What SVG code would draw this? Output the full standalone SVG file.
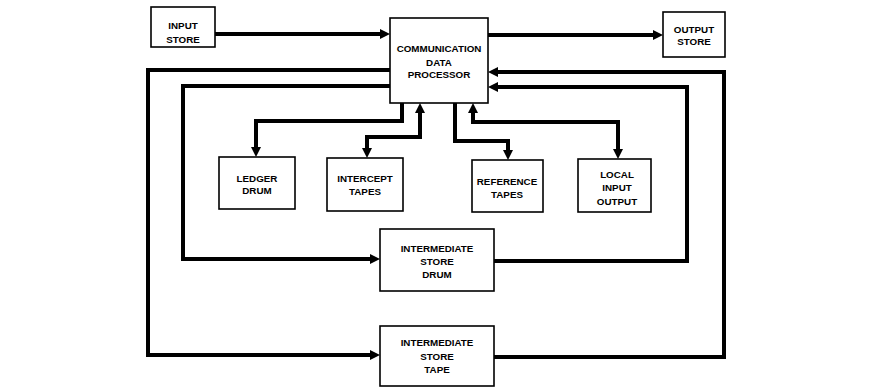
<svg xmlns="http://www.w3.org/2000/svg" width="891" height="388" viewBox="0 0 891 388">
<style>
.box{fill:#fff;stroke:#000;stroke-width:1.6}
.t{font-family:"Liberation Sans",Arial,sans-serif;font-weight:bold;font-size:9.8px;text-anchor:middle;fill:#000}
.c{fill:none;stroke:#000;stroke-width:4;stroke-linejoin:miter}
</style>
<defs>
<marker id="ah" viewBox="0 0 10 10" refX="3" refY="5" markerWidth="10" markerHeight="10" markerUnits="userSpaceOnUse" orient="auto-start-reverse">
<path d="M0,0 L10,5 L0,10 z" fill="#000"/>
</marker>
</defs>
<rect width="891" height="388" fill="#fff"/>
<g id="connectors">
<path class="c" d="M215,34 H383" marker-end="url(#ah)"/>
<path class="c" d="M488,35 H656" marker-end="url(#ah)"/>
<path class="c" d="M390,70 H148 V355 H373" marker-end="url(#ah)"/>
<path class="c" d="M390,86 H183 V259 H373" marker-end="url(#ah)"/>
<path class="c" d="M494,261 H687 V87 H495" marker-end="url(#ah)"/>
<path class="c" d="M494,357 H724 V72 H495" marker-end="url(#ah)"/>
<path class="c" d="M402,103 V121 H256 V150" marker-end="url(#ah)"/>
<path class="c" d="M367,151 V137 H420 V110" marker-start="url(#ah)" marker-end="url(#ah)"/>
<path class="c" d="M455,103 V141 H508 V153" marker-end="url(#ah)"/>
<path class="c" d="M473,110 V122 H618 V152" marker-start="url(#ah)" marker-end="url(#ah)"/>
</g>
<g id="input-store">
<rect class="box" x="151" y="7" width="64" height="40"/>
<text class="t" x="183" y="29">INPUT</text>
<text class="t" x="183" y="43">STORE</text>
</g>
<g id="cdp">
<rect class="box" x="390" y="18" width="98" height="85"/>
<text class="t" x="439" y="52">COMMUNICATION</text>
<text class="t" x="439" y="66">DATA</text>
<text class="t" x="439" y="78">PROCESSOR</text>
</g>
<g id="output-store">
<rect class="box" x="663" y="12" width="62" height="45"/>
<text class="t" x="694" y="33">OUTPUT</text>
<text class="t" x="694" y="45">STORE</text>
</g>
<g id="ledger-drum">
<rect class="box" x="219" y="157" width="76" height="52"/>
<text class="t" x="257" y="182">LEDGER</text>
<text class="t" x="257" y="194">DRUM</text>
</g>
<g id="intercept-tapes">
<rect class="box" x="327" y="158" width="76" height="53"/>
<text class="t" x="365" y="182">INTERCEPT</text>
<text class="t" x="365" y="195">TAPES</text>
</g>
<g id="reference-tapes">
<rect class="box" x="472" y="160" width="71" height="52"/>
<text class="t" x="507" y="185">REFERENCE</text>
<text class="t" x="507" y="198">TAPES</text>
</g>
<g id="local-io">
<rect class="box" x="578" y="159" width="73" height="53"/>
<text class="t" x="617" y="178">LOCAL</text>
<text class="t" x="617" y="191">INPUT</text>
<text class="t" x="617" y="205">OUTPUT</text>
</g>
<g id="intermediate-drum">
<rect class="box" x="380" y="229" width="114" height="62"/>
<text class="t" x="437" y="252">INTERMEDIATE</text>
<text class="t" x="437" y="265">STORE</text>
<text class="t" x="437" y="278">DRUM</text>
</g>
<g id="intermediate-tape">
<rect class="box" x="380" y="326" width="114" height="60"/>
<text class="t" x="437" y="346">INTERMEDIATE</text>
<text class="t" x="437" y="360">STORE</text>
<text class="t" x="437" y="373">TAPE</text>
</g>
</svg>
